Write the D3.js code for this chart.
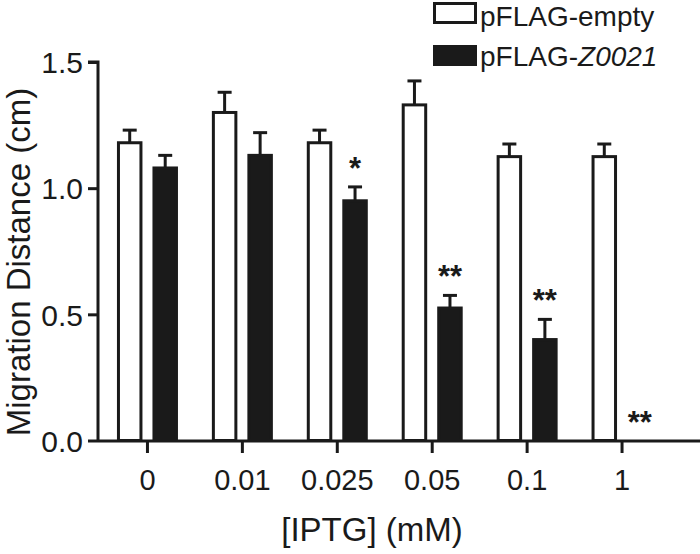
<!DOCTYPE html>
<html><head><meta charset="utf-8">
<script src="https://cdn.jsdelivr.net/npm/d3@7"></script>
<style>
body{margin:0;background:#fff;}
text{font-family:"Liberation Sans",Arial,Helvetica,sans-serif;fill:#1a1a1a;}
</style></head>
<body><svg id="c" width="700" height="554"></svg>
<script>
const categories = ["0","0.01","0.025","0.05","0.1","1"];
const seriesNames = ["pFLAG-empty","pFLAG-Z0021"];
const emptyMean = [1.18,1.30,1.18,1.33,1.125,1.125];
const emptyErr  = [0.05,0.08,0.05,0.095,0.05,0.05];
const z0021Mean = [1.08,1.13,0.95,0.525,0.40,0];
const z0021Err  = [0.05,0.09,0.055,0.05,0.08,0];
const z0021Sig  = ["","","*","**","**","**"];
const yTicks = [0,0.5,1.0,1.5];

const ink = "#1a1a1a";
const svg = d3.select("#c");
const x = d3.scaleBand().domain(categories).range([100,669.5]).paddingInner(0).paddingOuter(0);
const xs = d3.scaleBand().domain([0,1]).range([-30.5,30.5]).paddingInner(0.282).paddingOuter(0);
const y = d3.scaleLinear().domain([0,1.5]).range([440.5,62]);
const sw = 3;

const data = [];
categories.forEach((c,i)=>{
  data.push({c, s:0, v:emptyMean[i], e:emptyErr[i], sig:""});
  data.push({c, s:1, v:z0021Mean[i], e:z0021Err[i], sig:z0021Sig[i]});
});
const cx = d => x(d.c) + x.bandwidth()/2 + xs(d.s);

// error bars
const eb = svg.append("g").attr("stroke",ink).attr("stroke-width",sw);
data.filter(d=>d.v>0).forEach(d=>{
  const mid = cx(d) + xs.bandwidth()/2;
  eb.append("line").attr("x1",mid).attr("x2",mid).attr("y1",y(d.v)).attr("y2",y(d.v+d.e));
  eb.append("line").attr("x1",mid-7).attr("x2",mid+7).attr("y1",y(d.v+d.e)).attr("y2",y(d.v+d.e));
});
// bars
svg.append("g").selectAll("rect").data(data.filter(d=>d.v>0)).join("rect")
  .attr("x",d=>cx(d)+sw/2).attr("width",xs.bandwidth()-sw)
  .attr("y",d=>y(d.v)).attr("height",d=>y(0)-y(d.v))
  .attr("fill",d=>d.s===0?"#fff":ink).attr("stroke",ink).attr("stroke-width",sw);

// significance
svg.append("g").selectAll("text").data(data.filter(d=>d.sig)).join("text")
  .attr("x",d=>cx(d)+xs.bandwidth()/2).attr("y",d=>y(d.v+d.e)-25+17)
  .attr("text-anchor","middle").style("font-size","31px").style("font-weight","bold").text(d=>d.sig);

// y axis
const ya = svg.append("g").attr("transform","translate(98,0)")
  .call(d3.axisLeft(y).tickValues(yTicks).tickFormat(d3.format(".1f")).tickSize(10).tickPadding(5));
ya.select(".domain").attr("stroke",ink).attr("stroke-width",sw).attr("d","M-10,"+y(1.5)+"H0V"+y(0));
ya.selectAll(".tick line").attr("stroke",ink).attr("stroke-width",sw);
ya.selectAll(".tick text").style("font-size","30px").attr("font-family",null).attr("dy","0.36em");

// x axis
const xa = svg.append("g").attr("transform","translate(0,441)")
  .call(d3.axisBottom(x).tickSize(12).tickPadding(16));
xa.select(".domain").attr("stroke",ink).attr("stroke-width",sw).attr("d","M98,0H700");
xa.selectAll(".tick line").attr("stroke",ink).attr("stroke-width",sw);
xa.selectAll(".tick text").style("font-size","29px").attr("font-family",null);

// titles
svg.append("text").attr("x",372).attr("y",541).attr("text-anchor","middle").style("font-size","33px").text("[IPTG] (mM)");
svg.append("text").attr("transform","translate(30,262) rotate(-90)").attr("text-anchor","middle").style("font-size","33px").text("Migration Distance (cm)");

// legend
const lg = svg.append("g");
lg.append("rect").attr("x",434.5).attr("y",3.5).attr("width",41).attr("height",19).attr("fill","#fff").attr("stroke",ink).attr("stroke-width",sw);
lg.append("rect").attr("x",434.5).attr("y",46.5).attr("width",41).attr("height",18).attr("fill",ink).attr("stroke",ink).attr("stroke-width",sw);
lg.append("text").attr("x",480).attr("y",25.5).style("font-size","28px").text(seriesNames[0]);
const t2 = lg.append("text").attr("x",480).attr("y",66).style("font-size","28px");
t2.append("tspan").text("pFLAG-");
t2.append("tspan").style("font-style","italic").text("Z0021");
</script></body></html>
